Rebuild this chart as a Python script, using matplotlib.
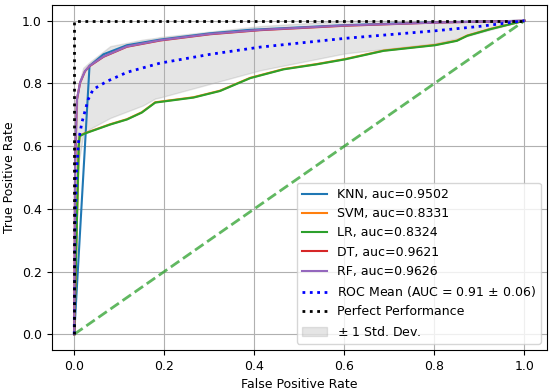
import matplotlib
matplotlib.use('Agg')
import matplotlib.pyplot as plt
import numpy as np

# ROC curves
knn_fpr = [0.0, 0.034, 0.065, 0.117, 0.191, 0.302, 0.39, 0.6, 0.8, 1.0]
knn_tpr = [0.0, 0.856, 0.893, 0.922, 0.940, 0.960, 0.971, 0.986, 0.995, 1.0]

lr_fpr = [0.0, 0.01, 0.012, 0.023, 0.08, 0.117, 0.15, 0.18, 0.265, 0.324, 0.391,
          0.465, 0.539, 0.602, 0.687, 0.802, 0.85, 0.873, 0.924, 0.991, 1.0]
lr_tpr = [0.0, 0.60, 0.632, 0.64, 0.669, 0.685, 0.707, 0.739, 0.755, 0.776, 0.817,
          0.845, 0.861, 0.877, 0.904, 0.922, 0.936, 0.952, 0.973, 0.997, 1.0]

svm_fpr = lr_fpr
svm_tpr = [0.0, 0.60, 0.633, 0.641, 0.670, 0.686, 0.708, 0.740, 0.756, 0.777, 0.818,
           0.846, 0.862, 0.878, 0.905, 0.923, 0.937, 0.953, 0.974, 0.997, 1.0]

rf_fpr = [0.0, 0.002, 0.006, 0.013, 0.024, 0.034, 0.065, 0.117, 0.191, 0.302, 0.413, 0.6, 0.8, 1.0]
rf_tpr = [0.0, 0.55, 0.749, 0.803, 0.840, 0.856, 0.886, 0.918, 0.938, 0.958, 0.971, 0.985, 0.994, 1.0]

dt_fpr = rf_fpr
dt_tpr = [0.0, 0.55, 0.748, 0.802, 0.839, 0.855, 0.885, 0.917, 0.937, 0.957, 0.970, 0.984, 0.994, 1.0]

mean_fpr = [0.0, 0.002, 0.005, 0.01, 0.017, 0.031, 0.042, 0.073, 0.118, 0.191, 0.302,
            0.413, 0.602, 0.802, 0.9, 1.0]
mean_tpr = [0.0, 0.35, 0.52, 0.62, 0.675, 0.749, 0.781, 0.807, 0.836, 0.865, 0.893,
            0.916, 0.944, 0.968, 0.982, 1.0]

band_fpr = [0.0, 0.005, 0.01, 0.02, 0.036, 0.08, 0.153, 0.18, 0.19, 0.413, 0.602,
            0.802, 0.864, 0.99, 1.0]
band_upper = [0.0, 0.70, 0.80, 0.85, 0.870, 0.919, 0.940, 0.945, 0.948, 0.983, 1.0,
              1.0, 1.0, 1.0, 1.0]
band_lower = [0.0, 0.35, 0.55, 0.635, 0.656, 0.69, 0.73, 0.752, 0.755, 0.842, 0.896,
              0.928, 0.948, 0.997, 1.0]

labels = ['KNN, auc=0.9502', 'SVM, auc=0.8331', 'LR, auc=0.8324',
          'DT, auc=0.9621', 'RF, auc=0.9626']

plt.rcParams['font.size'] = 9

fig = plt.figure(figsize=(5.5, 3.91), dpi=100)
ax = fig.add_axes([0.094, 0.105, 0.9005, 0.882])

ax.plot([0, 1], [0, 1], linestyle='--', lw=2, color='tab:green', alpha=0.75)
ax.plot(knn_fpr, knn_tpr, color='tab:blue', lw=1.5, label=labels[0])
ax.plot(svm_fpr, svm_tpr, color='tab:orange', lw=1.5, label=labels[1])
ax.plot(lr_fpr, lr_tpr, color='tab:green', lw=1.5, label=labels[2])
ax.plot(dt_fpr, dt_tpr, color='tab:red', lw=1.5, label=labels[3])
ax.plot(rf_fpr, rf_tpr, color='tab:purple', lw=1.5, label=labels[4])

ax.plot(mean_fpr, mean_tpr, color='b', linestyle=':', lw=2,
        label='ROC Mean (AUC = 0.91 $\\pm$ 0.06)')
ax.plot([0, 0, 1], [0, 1, 1], color='black', linestyle=':', lw=2,
        label='Perfect Performance')
ax.fill_between(band_fpr, band_lower, band_upper, color='grey', alpha=0.2,
                label='$\\pm$ 1 Std. Dev.')

ax.set_xlim(-0.05, 1.05)
ax.set_ylim(-0.05, 1.05)
ax.set_xlabel('False Positive Rate')
ax.set_ylabel('True Positive Rate')
ax.grid(True)
ax.legend(loc='lower right')

plt.savefig('out.png', dpi=100)
